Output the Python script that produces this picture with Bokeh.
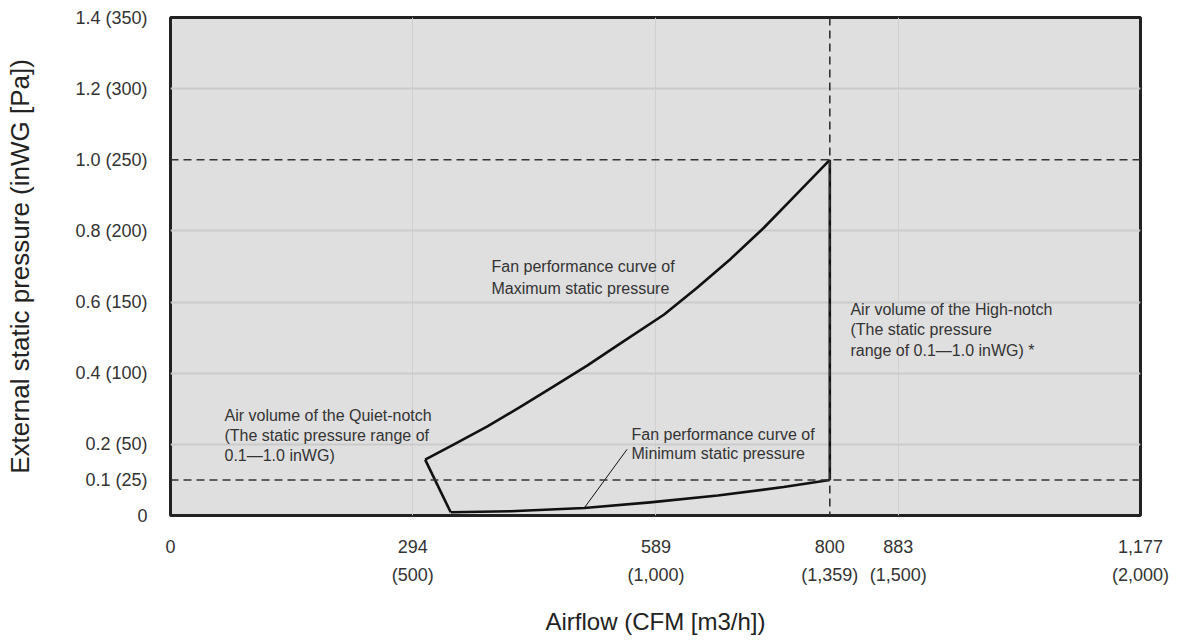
from bokeh.plotting import figure
from bokeh.models import FixedTicker, Span, Range1d
from bokeh.core.properties import value
from bokeh.embed import file_html
from bokeh.resources import INLINE

# ---- data ----
x_ticks = [0, 294, 589, 800, 883, 1177]
x_tick_m3h = ["", "(500)", "(1,000)", "(1,359)", "(1,500)", "(2,000)"]
x_tick_cfm = ["0", "294", "589", "800", "883", "1,177"]

y_ticks = [0, 0.1, 0.2, 0.4, 0.6, 0.8, 1.0, 1.2, 1.4]
y_tick_labels = ["0", "0.1 (25)", "0.2 (50)", "0.4 (100)", "0.6 (150)",
                 "0.8 (200)", "1.0 (250)", "1.2 (300)", "1.4 (350)"]

# maximum static pressure curve (CFM, inWG)
max_cfm = [309, 344, 384, 425, 465, 506, 546, 599, 639, 680, 720, 760, 800]
max_p = [0.157, 0.200, 0.250, 0.306, 0.363, 0.422, 0.484, 0.565,
         0.640, 0.722, 0.809, 0.904, 1.0]

# minimum static pressure curve
min_cfm = [340, 413, 502, 582, 664, 744, 800]
min_p = [0.009, 0.012, 0.021, 0.037, 0.056, 0.080, 0.100]

# quiet-notch edge (connects max curve start to min curve start)
quiet_cfm = [309, 340]
quiet_p = [0.157, 0.009]

# high-notch edge
high_cfm = [800, 800]
high_p = [0.100, 1.0]

# leader line for min-curve label
leader_cfm = [502, 554]
leader_p = [0.021, 0.186]

ref_p_lines = [1.0, 0.1]
ref_cfm_line = 800

FONT = "Liberation Sans"
TXT = "#333333"

p = figure(width=1176, height=640, output_backend="svg", toolbar_location=None,
           x_range=Range1d(0, 1177), y_range=Range1d(0, 1.4),
           min_border_left=170, min_border_top=17, min_border_right=36,
           min_border_bottom=125)

p.background_fill_color = "#dfdfdf"
p.border_fill_color = "white"
p.outline_line_color = "#222222"
p.outline_line_width = 3

# axes
p.xaxis.ticker = FixedTicker(ticks=x_ticks)
p.xaxis.major_label_overrides = {t: (c if m == "" else c + "\n" + m)
                                 for t, c, m in zip(x_ticks, x_tick_cfm, x_tick_m3h)}
p.yaxis.ticker = FixedTicker(ticks=y_ticks)
p.yaxis.major_label_overrides = {t: l for t, l in zip(y_ticks, y_tick_labels)}

for ax in (p.xaxis[0], p.yaxis[0]):
    ax.axis_line_color = None
    ax.major_tick_line_color = None
    ax.minor_tick_line_color = None
    ax.major_tick_out = 0
    ax.major_tick_in = 0
    ax.major_label_text_font = FONT
    ax.major_label_text_font_size = "18px"
    ax.major_label_text_color = TXT
    ax.axis_label_text_font = FONT
    ax.axis_label_text_font_style = "normal"
    ax.axis_label_text_color = "#222222"

p.xaxis.axis_label = "Airflow (CFM [m3/h])"
p.xaxis.axis_label_text_font_size = "24px"
p.yaxis.axis_label = "External static pressure (inWG [Pa])"
p.yaxis.axis_label_text_font_size = "26px"
p.xaxis.major_label_standoff = 21
p.xaxis.major_label_text_line_height = 1.4
p.xaxis.axis_label_standoff = 20
p.yaxis.major_label_standoff = 23
p.yaxis.axis_label_standoff = 37

# grid
p.xgrid.ticker = FixedTicker(ticks=[294, 589, 883])
p.xgrid.grid_line_color = "#cfcfcf"
p.xgrid.grid_line_width = 1
p.ygrid.ticker = FixedTicker(ticks=[0.2, 0.4, 0.6, 0.8, 1.2])
p.ygrid.grid_line_color = "#cbcbcb"
p.ygrid.grid_line_width = 2

# dashed reference lines
for loc in ref_p_lines:
    p.add_layout(Span(location=loc, dimension="width", line_color="#333333",
                      line_width=1.6, line_dash="8 5"))
p.add_layout(Span(location=ref_cfm_line, dimension="height", line_color="#333333",
                  line_width=1.6, line_dash="8 5"))

# curves
lw = 2.6
for xs, ys in ((max_cfm, max_p), (min_cfm, min_p), (quiet_cfm, quiet_p),
               (high_cfm, high_p)):
    p.line(xs, ys, line_color="#111111", line_width=lw, line_join="round")
p.line(leader_cfm, leader_p, line_color="#111111", line_width=1)

# annotations
notes = [
    (65.5, 0.306, "Air volume of the Quiet-notch\n(The static pressure range of\n0.1\u20141.0 inWG)", 1.2),
    (389.5, 0.723, "Fan performance curve of\nMaximum static pressure", 1.25),
    (559.4, 0.252, "Fan performance curve of\nMinimum static pressure", 1.15),
    (825, 0.603, "Air volume of the High-notch\n(The static pressure\nrange of 0.1\u20141.0 inWG) *", 1.2),
]
for x, y, t, lh in notes:
    p.text(x=[x], y=[y], text=[t], text_font=value(FONT), text_font_size="16px",
           text_color=TXT, text_align="left", text_baseline="top",
           text_line_height=lh)

open("out.html", "w").write(file_html(p, INLINE))
